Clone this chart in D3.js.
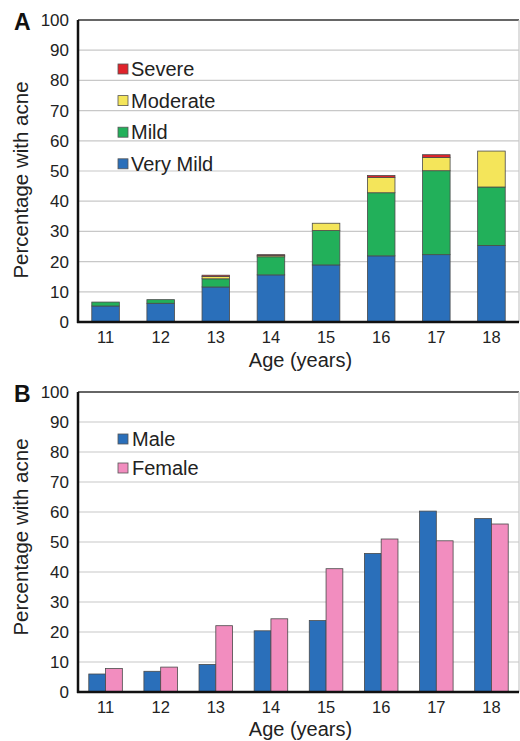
<!DOCTYPE html>
<html>
<head>
<meta charset="utf-8">
<script src="https://cdn.jsdelivr.net/npm/d3@7"></script>
<style>
  body { margin: 0; background: #fff; }
  svg text { font-family: Arial, "Liberation Sans", sans-serif; fill: #222; }
</style>
</head>
<body>
<svg id="chart" width="520" height="741"></svg>
<script>
// ages on the x axis
const ages = ['11', '12', '13', '14', '15', '16', '17', '18']

// panel A: severity stacks (percent)
const veryMild = [5.3, 6.2, 11.6, 15.6, 18.9, 21.9, 22.3, 25.3]
const mild     = [1.3, 1.2, 2.7, 6.0, 11.4, 20.9, 27.8, 19.4]
const moderate = [0, 0, 0.8, 0.4, 2.4, 5.1, 4.4, 11.9]
const severe   = [0, 0, 0.4, 0.3, 0, 0.6, 0.9, 0]
const severityNames = ['Very Mild', 'Mild', 'Moderate', 'Severe']
const severityColors = ['#2a6fba', '#22b05a', '#f4e55a', '#e0232b']

// panel B: sex (percent)
const male   = [6.0, 6.9, 9.2, 20.4, 23.8, 46.2, 60.3, 57.8]
const female = [7.8, 8.3, 22.1, 24.4, 41.1, 51.0, 50.4, 56.0]
const sexNames = ['Male', 'Female']
const sexColors = ['#2a6fba', '#f28dbf']

const yTicks = d3.range(0, 101, 10)

const svg = d3.select('#chart')
const left = 78, right = 519

const drawFrame = (g, top, bottom, letter, labelGap, yLabelMid) => {
    const y = d3.scaleLinear().domain([0, 100]).range([bottom, top])
    const x = d3.scaleBand().domain(ages).range([left, right]).paddingInner(0.5).paddingOuter(0.25)

    // gridlines
    g.selectAll('.grid')
        .data(yTicks.filter(d => d > 0 && d < 100))
        .enter().append('line')
        .attr('x1', left).attr('x2', right)
        .attr('y1', d => y(d)).attr('y2', d => y(d))
        .style('stroke', '#c8c8c8').style('stroke-width', 1.2)

    // frame: top dark, right light
    g.append('line').attr('x1', left).attr('x2', right).attr('y1', top).attr('y2', top)
        .style('stroke', '#333').style('stroke-width', 1.5)
    g.append('line').attr('x1', right).attr('x2', right).attr('y1', top).attr('y2', bottom)
        .style('stroke', '#c8c8c8').style('stroke-width', 1.2)

    const yAxis = g.append('g')
        .attr('transform', `translate(${left},0)`)
        .call(d3.axisLeft(y).tickValues(yTicks).tickSize(0).tickPadding(9))
    yAxis.select('.domain').remove()
    yAxis.selectAll('text').style('font-size', '17px').style('fill', '#222')

    const xAxis = g.append('g')
        .attr('transform', `translate(0,${bottom})`)
        .call(d3.axisBottom(x).tickSize(0).tickPadding(9))
    xAxis.select('.domain').remove()
    xAxis.selectAll('text').style('font-size', '16.5px').style('fill', '#222')

    g.append('text')
        .attr('transform', `translate(21,${yLabelMid}) rotate(-90)`)
        .attr('text-anchor', 'middle').attr('dy', '0.35em')
        .style('font-size', '20.5px')
        .text('Percentage with acne')

    g.append('text')
        .attr('x', (left + right) / 2 + 2).attr('y', bottom + labelGap)
        .attr('text-anchor', 'middle')
        .style('font-size', '20px')
        .text('Age (years)')

    g.append('text')
        .attr('x', 14).attr('y', top + 10)
        .style('font-size', '23px').style('font-weight', 'bold').style('fill', '#111')
        .text(letter)

    return { x, y }
}

const drawAxes = (g, top, bottom) => {
    g.append('line').attr('x1', left).attr('x2', left).attr('y1', top).attr('y2', bottom + 1)
        .style('stroke', '#111').style('stroke-width', 2.5)
    g.append('line').attr('x1', left - 1).attr('x2', right).attr('y1', bottom).attr('y2', bottom)
        .style('stroke', '#111').style('stroke-width', 2.5)
}

// ---- panel A ----
const gA = svg.append('g')
const A = drawFrame(gA, 20, 322, 'A', 45, 180)

const tableA = ages.map((age, i) => ({
    age, 'Very Mild': veryMild[i], 'Mild': mild[i], 'Moderate': moderate[i], 'Severe': severe[i]
}))
const stack = d3.stack().keys(severityNames)(tableA)
const color = d3.scaleOrdinal().domain(severityNames).range(severityColors)

gA.selectAll('.layer')
    .data(stack)
    .enter().append('g')
    .style('fill', d => color(d.key))
    .selectAll('rect')
    .data(d => d.filter(s => s[1] - s[0] > 0))
    .enter().append('rect')
    .attr('x', d => A.x(d.data.age))
    .attr('y', d => A.y(d[1]))
    .attr('width', A.x.bandwidth())
    .attr('height', d => A.y(d[0]) - A.y(d[1]))
    .style('stroke', '#4a4a4a').style('stroke-width', 0.8)

drawAxes(gA, 20, 322)

const legA = gA.append('g')
severityNames.slice().reverse().forEach((name, i) => {
    const ly = 69 + i * 31.6
    legA.append('rect').attr('x', 118).attr('y', ly - 5).attr('width', 10).attr('height', 10)
        .style('fill', color(name)).style('stroke', '#555').style('stroke-width', 0.8)
    legA.append('text').attr('x', 131).attr('y', ly).attr('dy', '0.35em')
        .style('font-size', '20px').text(name)
})

// ---- panel B ----
const gB = svg.append('g')
const B = drawFrame(gB, 392, 692, 'B', 44, 537)

const xSub = d3.scaleBand().domain(sexNames).range([-3, B.x.bandwidth() + 3])
const tableB = ages.map((age, i) => ({ age, Male: male[i], Female: female[i] }))
const sexColor = d3.scaleOrdinal().domain(sexNames).range(sexColors)

gB.selectAll('.grp')
    .data(tableB)
    .enter().append('g')
    .attr('transform', d => `translate(${B.x(d.age)},0)`)
    .selectAll('rect')
    .data(d => sexNames.map(k => ({ key: k, value: d[k] })))
    .enter().append('rect')
    .attr('x', d => xSub(d.key))
    .attr('y', d => B.y(d.value))
    .attr('width', xSub.bandwidth())
    .attr('height', d => B.y(0) - B.y(d.value))
    .style('fill', d => sexColor(d.key))
    .style('stroke', '#4a4a4a').style('stroke-width', 0.8)

drawAxes(gB, 392, 692)

const legB = gB.append('g')
sexNames.forEach((name, i) => {
    const ly = 439 + i * 29
    legB.append('rect').attr('x', 118).attr('y', ly - 5).attr('width', 10).attr('height', 10)
        .style('fill', sexColor(name)).style('stroke', '#555').style('stroke-width', 0.8)
    legB.append('text').attr('x', 132).attr('y', ly).attr('dy', '0.35em')
        .style('font-size', '20px').text(name)
})
</script>
</body>
</html>
